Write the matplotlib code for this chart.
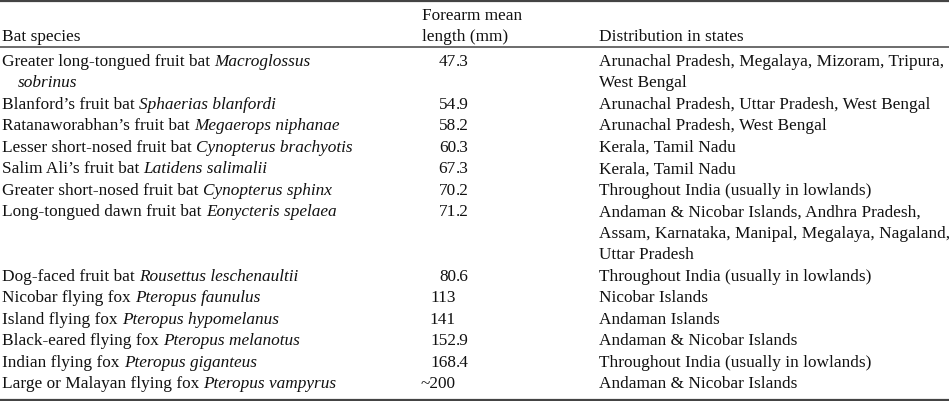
import numpy as np
import matplotlib as mpl
mpl.use('Agg')
import matplotlib.pyplot as plt


# Table content
common_names = [
  'Greater long-tongued fruit bat',
  'Blanford\u2019s fruit bat',
  'Ratanaworabhan\u2019s fruit bat',
  'Lesser short-nosed fruit bat',
  'Salim Ali\u2019s fruit bat',
  'Greater short-nosed fruit bat',
  'Long-tongued dawn fruit bat',
  'Dog-faced fruit bat',
  'Nicobar flying fox',
  'Island flying fox',
  'Black-eared flying fox',
  'Indian flying fox',
  'Large or Malayan flying fox',
]
latin_names = [
  'Macroglossus\nsobrinus',
  'Sphaerias blanfordi',
  'Megaerops niphanae',
  'Cynopterus brachyotis',
  'Latidens salimalii',
  'Cynopterus sphinx',
  'Eonycteris spelaea',
  'Rousettus leschenaultii',
  'Pteropus faunulus',
  'Pteropus hypomelanus',
  'Pteropus melanotus',
  'Pteropus giganteus',
  'Pteropus vampyrus',
]
forearm = ['47.3', '54.9', '58.2', '60.3', '67.3', '70.2', '71.2',
           '80.6', '113', '141', '152.9', '168.4', '~200']
distribution = [
  'Arunachal Pradesh, Megalaya, Mizoram, Tripura,\nWest Bengal',
  'Arunachal Pradesh, Uttar Pradesh, West Bengal',
  'Arunachal Pradesh, West Bengal',
  'Kerala, Tamil Nadu',
  'Kerala, Tamil Nadu',
  'Throughout India (usually in lowlands)',
  'Andaman & Nicobar Islands, Andhra Pradesh,\nAssam, Karnataka, Manipal, Megalaya, Nagaland,\nUttar Pradesh',
  'Throughout India (usually in lowlands)',
  'Nicobar Islands',
  'Andaman Islands',
  'Andaman & Nicobar Islands',
  'Throughout India (usually in lowlands)',
  'Andaman & Nicobar Islands',
]
headers = ['Bat species', 'Forearm mean\nlength (mm)', 'Distribution in states']

# Layout (pixel units)
W, H = 949, 401
FS = 12.4
FONT = 'Liberation Serif'
TXT = '#111111'
RULE = '#444444'
x_sp, x_indent, x_fa, x_dec, x_dist = 2, 18, 422, 456, 599
step = 21.53
y_row0 = 65.5


fg = plt.figure(figsize=(W/100, H/100), dpi=100)
ax = fg.add_axes([0, 0, 1, 1])
ax.set_xlim(0, W)
ax.set_ylim(H, 0)
ax.axis('off')
rend = fg.canvas.get_renderer()
inv = ax.transData.inverted()


def put(x, y, s, style='normal', ha='left'):
  return ax.text(x, y, s, fontsize=FS, family=FONT, style=style, color=TXT,
                 ha=ha, va='baseline')


def right_edge(t):
  bb = t.get_window_extent(rend)
  return inv.transform((bb.x1, bb.y1))[0]


# Rules
ax.plot([0, W], [1.2, 1.2], color=RULE, lw=1.6, solid_capstyle='butt')
ax.plot([0, W], [47.0, 47.0], color=RULE, lw=1.1, solid_capstyle='butt')
ax.plot([0, W], [399.5, 399.5], color=RULE, lw=1.6, solid_capstyle='butt')

# Header
put(x_sp, 41.0, headers[0])
h1, h2 = headers[1].split('\n')
put(x_fa, 20.5, h1)
put(x_fa, 41.0, h2)
put(x_dist, 41.0, headers[2])

# Body
space = FS*0.25*100/72
line = 0
for cn, ln, fa, ds in zip(common_names, latin_names, forearm, distribution):
  y = y_row0 + line*step
  t = put(x_sp, y, cn)
  lat_lines = ln.split('\n')
  put(right_edge(t) + space, y, lat_lines[0], style='italic')
  for k, extra in enumerate(lat_lines[1:]):
    put(x_indent, y + (k+1)*step, extra, style='italic')

  # forearm, aligned on the decimal point
  ipart, _, fpart = fa.partition('.')
  put(x_dec, y, ipart, ha='right')
  if fpart:
    put(x_dec, y, '.' + fpart)

  ds_lines = ds.split('\n')
  for k, s in enumerate(ds_lines):
    put(x_dist, y + k*step, s)

  line += max(len(lat_lines), len(ds_lines))

fg.savefig('out.png', dpi=100)
